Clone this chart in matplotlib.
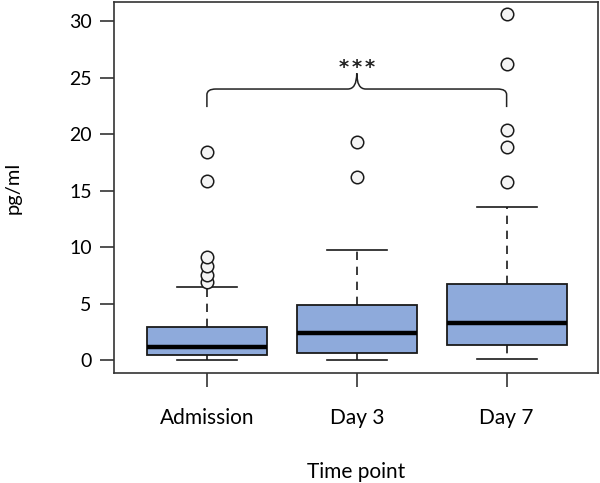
import matplotlib
matplotlib.use("Agg")
import matplotlib.pyplot as plt
from matplotlib.path import Path
from matplotlib.patches import PathPatch

plt.rcParams['font.family'] = ['Lato', 'DejaVu Sans']

categories = ["Admission", "Day 3", "Day 7"]
whislo = [0.03, 0.03, 0.09]
q1 = [0.44, 0.59, 1.33]
medians = [1.15, 2.36, 3.25]
q3 = [2.95, 4.84, 6.73]
whishi = [6.5, 9.71, 13.55]
outliers = [
    [6.9, 7.5, 8.35, 9.1, 15.85, 18.45],
    [16.18, 19.31],
    [15.79, 18.9, 20.34, 26.2, 30.6],
]
yticks = [0, 5, 10, 15, 20, 25, 30]
sig_label = "*"
sig_count = 3
sig_level = 24.0

fig = plt.figure(figsize=(6.0, 4.83), dpi=100)
ax = fig.add_axes([0.19, 0.2277, 0.8067, 0.768])

stats = []
for i, c in enumerate(categories):
    stats.append(dict(label=c, whislo=whislo[i], q1=q1[i], med=medians[i],
                      q3=q3[i], whishi=whishi[i], fliers=outliers[i]))

positions = [1, 2, 3]
ax.bxp(stats, positions=positions, widths=0.8, patch_artist=True,
       boxprops=dict(facecolor="#8eaadb", edgecolor="#1a1a1a", linewidth=1.3),
       medianprops=dict(color="black", linewidth=3.2, solid_capstyle="butt"),
       whiskerprops=dict(color="#1a1a1a", linewidth=1.2, linestyle=(0, (5, 4))),
       capprops=dict(color="#1a1a1a", linewidth=1.2),
       capwidths=0.4,
       flierprops=dict(marker="o", markerfacecolor="#f4f4f4", markeredgecolor="#1a1a1a",
                       markersize=9, markeredgewidth=1.1, linestyle="none"))

ax.set_xlim(0.38, 3.61)
ax.set_ylim(-1.15, 31.7)
ax.set_yticks(yticks)
ax.set_yticklabels([str(t) for t in yticks], fontsize=14)
ax.set_xticks(positions)
ax.set_xticklabels(categories, fontsize=15)
ax.tick_params(axis='both', length=10, width=1.2, color="#333333")
ax.tick_params(axis='x', pad=15)
ax.tick_params(axis='y', pad=6)
for s in ax.spines.values():
    s.set_linewidth(1.2)
    s.set_color("#333333")
ax.set_xlabel("Time point", fontsize=15, labelpad=24.5)
ax.set_ylabel("pg/ml", fontsize=14.5, labelpad=34)

# curly brace between first and last group
x0, x1 = positions[0], positions[-1]
xm = (x0 + x1) / 2
yb = sig_level - 1.6
yt = sig_level + 1.4
r = 0.06
ry = 0.5
verts = [
    (x0, yb), (x0, sig_level - ry), (x0, sig_level), (x0 + r, sig_level),
    (xm - r, sig_level), (xm, sig_level), (xm, yt),
    (xm, sig_level), (xm + r, sig_level),
    (x1 - r, sig_level), (x1, sig_level), (x1, sig_level - ry), (x1, yb),
]
codes = [Path.MOVETO, Path.LINETO, Path.CURVE3, Path.CURVE3,
         Path.LINETO, Path.CURVE3, Path.CURVE3,
         Path.CURVE3, Path.CURVE3,
         Path.LINETO, Path.CURVE3, Path.CURVE3, Path.LINETO]
ax.add_patch(PathPatch(Path(verts, codes), facecolor="none", edgecolor="#222222", linewidth=1.1))
for k in range(sig_count):
    ax.text(xm + (k - (sig_count - 1) / 2) * 0.085, yt + 0.05, sig_label,
            ha="center", va="baseline", fontsize=14,
            family="DejaVu Sans", fontweight="bold", color="#222222")

fig.savefig("out.png", dpi=100)
